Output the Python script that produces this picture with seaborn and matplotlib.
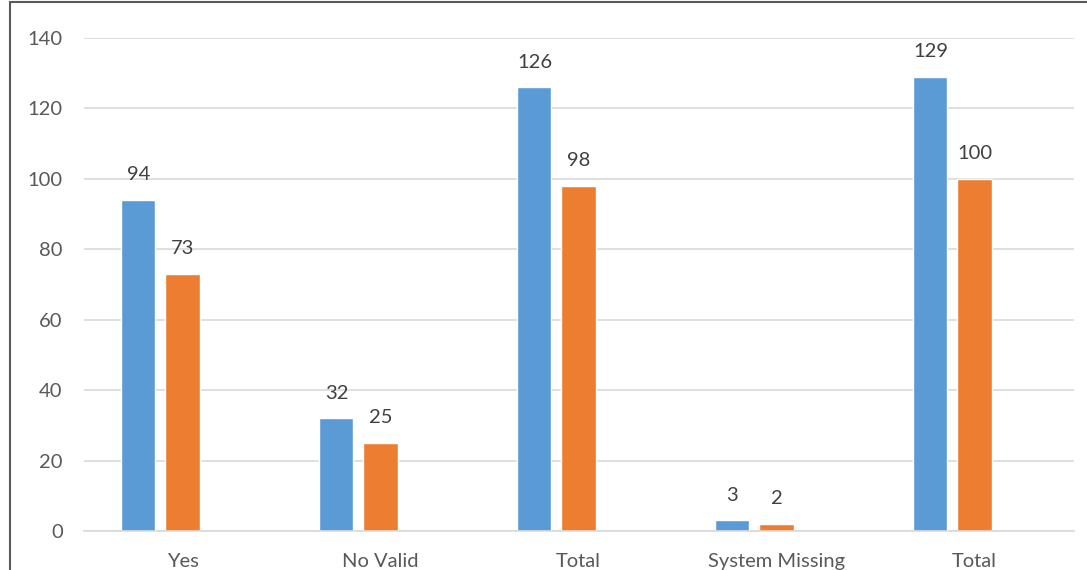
import matplotlib
matplotlib.use("Agg")
import matplotlib.pyplot as plt
import seaborn as sns
import pandas as pd
from matplotlib.patches import Rectangle

categories = ["Yes", "No Valid", "Total", "System Missing", "Total"]
series1 = [94, 32, 126, 3, 129]
series2 = [73, 25, 98, 2, 100]
series_names = ["Frequency", "Percent", "Valid Percent"]
yticks = [0, 20, 40, 60, 80, 100, 120, 140]

sns.set_theme(style="white")
plt.rcParams["font.family"] = ["Lato", "DejaVu Sans"]

W, H = 1087, 570
fig = plt.figure(figsize=(W / 100, H / 100), dpi=100)
ax = fig.add_axes([83.5 / W, (H - 531) / H, 990 / W, (531 - 38) / H])

rows = []
for i, c in enumerate(categories):
    rows.append({"cat": i, "series": series_names[0], "value": series1[i]})
    rows.append({"cat": i, "series": series_names[1], "value": series2[i]})
df = pd.DataFrame(rows)

sns.barplot(data=df, x="cat", y="value", hue="series", hue_order=series_names,
            order=list(range(len(categories))),
            palette=["#5B9BD5", "#ED7D31", "#A5A5A5"], width=0.667, gap=0.227,
            ax=ax, legend=False, errorbar=None, saturation=1)

txt = "#595959"
fs = 14.5
for cont in ax.containers:
    ax.bar_label(cont, labels=[f"{v:g}" for v in cont.datavalues], padding=12,
                 color="#404040", fontsize=fs)

ax.set_ylim(0, 140)
ax.set_xlim(-0.5, len(categories) - 0.5)
ax.set_yticks(yticks)
ax.set_yticklabels([str(t) for t in yticks], color=txt, fontsize=fs)
ax.set_xticks(list(range(len(categories))))
ax.set_xticklabels(categories, color=txt, fontsize=fs)
ax.tick_params(axis="y", length=0, pad=15)
ax.tick_params(axis="x", length=0, pad=15.5)
ax.set_xlabel("")
ax.set_ylabel("")
ax.grid(axis="y", color="#D9D9D9", linewidth=1.2)
ax.set_axisbelow(True)
for s in ["top", "right", "left"]:
    ax.spines[s].set_visible(False)
ax.spines["bottom"].set_color("#D9D9D9")
ax.spines["bottom"].set_linewidth(1.2)

fig.patches.append(Rectangle((9.5 / W, -0.1), 1.2, (H - 1.5) / H + 0.1,
                             transform=fig.transFigure, fill=False,
                             edgecolor="#595959", linewidth=1.5))

fig.savefig("out.png", dpi=100, facecolor="white")
